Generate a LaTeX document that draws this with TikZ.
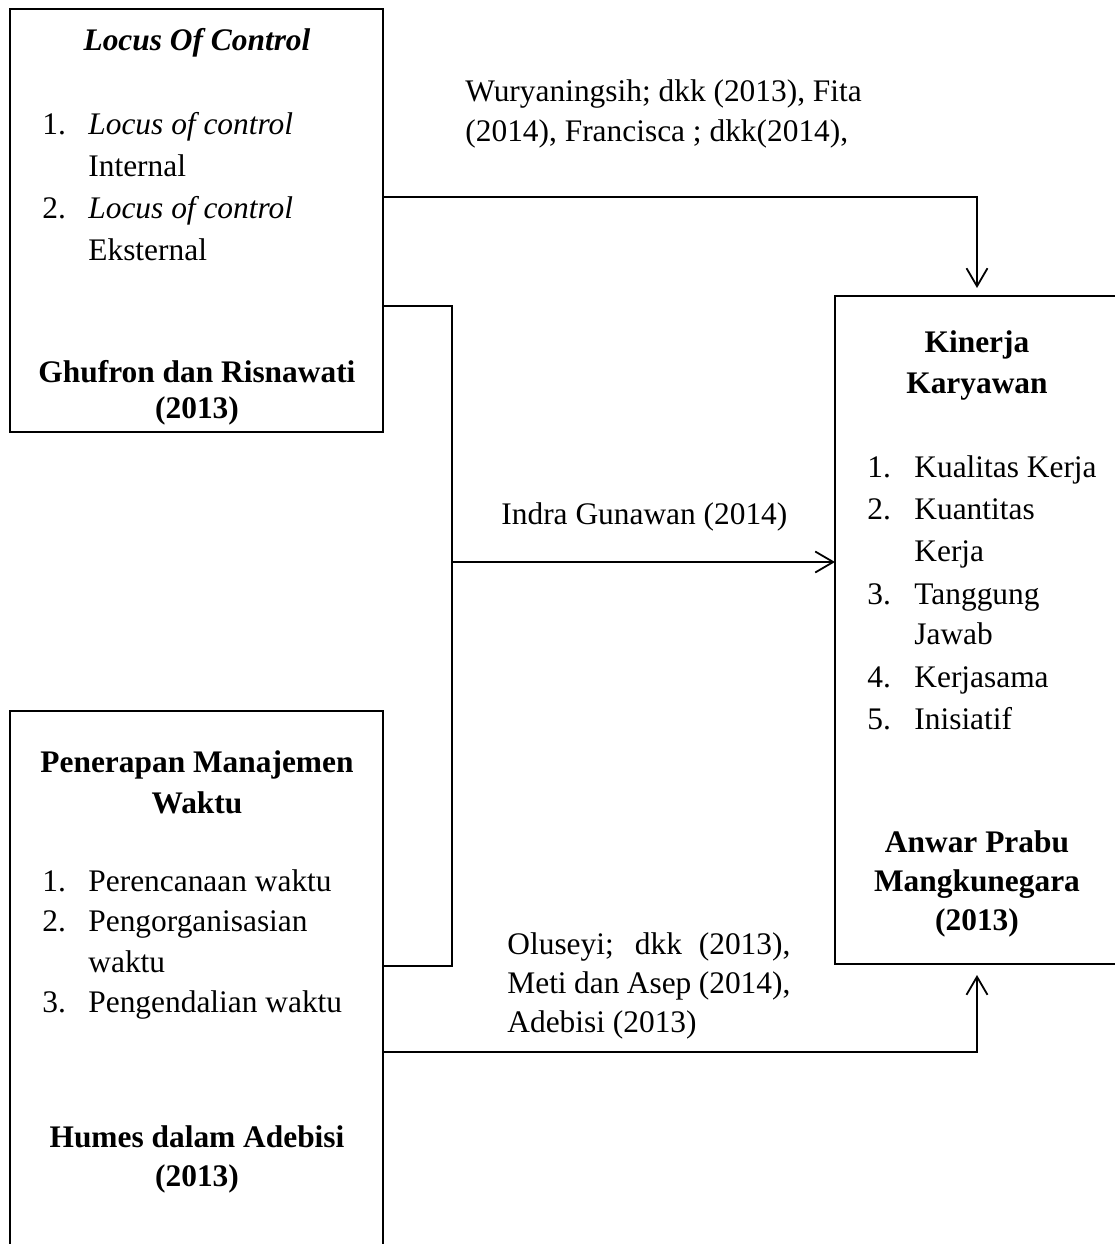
\documentclass[tikz,border=0pt]{standalone}
\usepackage{fontspec}
\setmainfont{Liberation Serif}
\usetikzlibrary{arrows.meta}
\begin{document}
\begin{tikzpicture}[x=0.5pt,y=-0.5pt,
  box/.style={draw, line width=0.9pt, inner sep=0pt, outer sep=0pt, anchor=north west},
  txt/.style={inner sep=0pt, font=\fontsize{15.7}{21}\selectfont},
  bt/.style={inner sep=0pt, font=\fontsize{15.7}{21}\selectfont\bfseries},
  bit/.style={inner sep=0pt, font=\fontsize{15.7}{21}\selectfont\bfseries\itshape},
  conn/.style={line width=0.9pt},
  arr/.style={line width=0.9pt, -{Straight Barb[length=9pt,width=10.5pt,line width=0.9pt]}}]
\clip (0,0) rectangle (1115,1244);
\fill[white] (0,0) rectangle (1115,1244);
% boxes
\node[box, minimum width=186.5pt, minimum height=211.5pt] (loc) at (10,9) {};
\node[box, minimum width=186.5pt, minimum height=280pt] (pen) at (10,711) {};
\node[box, minimum width=142pt, minimum height=334pt] (kin) at (835,296) {};
% Locus of control box
\node[bit, anchor=base] (lt) at (197,50) {Locus Of Control};
\node[txt, anchor=base west] (l1n) at (42,134) {1.};
\node[txt, anchor=base west] (l1t) at (88,134) {\textit{Locus of control}};
\node[txt, anchor=base west] (l1u) at (88,176) {Internal};
\node[txt, anchor=base west] (l2n) at (42,218) {2.};
\node[txt, anchor=base west] (l2t) at (88,218) {\textit{Locus of control}};
\node[txt, anchor=base west] (l2u) at (88,260) {Eksternal};
\node[bt, anchor=base] (lr1) at (197,382) {Ghufron dan Risnawati};
\node[bt, anchor=base] (lr2) at (197,418) {(2013)};
% Kinerja box
\node[bt, anchor=base] (k1) at (977,352) {Kinerja};
\node[bt, anchor=base] (k2) at (977,393) {Karyawan};
\node[txt, anchor=base west] (k3n) at (867,477) {1.};
\node[txt, anchor=base west] (k3t) at (914,477) {Kualitas Kerja};
\node[txt, anchor=base west] (k4n) at (867,519) {2.};
\node[txt, anchor=base west] (k4t) at (914,519) {Kuantitas};
\node[txt, anchor=base west] (k4u) at (914,561) {Kerja};
\node[txt, anchor=base west] (k5n) at (867,604) {3.};
\node[txt, anchor=base west] (k5t) at (914,604) {Tanggung};
\node[txt, anchor=base west] (k5u) at (914,644) {Jawab};
\node[txt, anchor=base west] (k6n) at (867,687) {4.};
\node[txt, anchor=base west] (k6t) at (914,687) {Kerjasama};
\node[txt, anchor=base west] (k7n) at (867,729) {5.};
\node[txt, anchor=base west] (k7t) at (914,729) {Inisiatif};
\node[bt, anchor=base] (kr1) at (977,852) {Anwar Prabu};
\node[bt, anchor=base] (kr2) at (977,891) {Mangkunegara};
\node[bt, anchor=base] (kr3) at (977,930) {(2013)};
% Penerapan box
\node[bt, anchor=base] (p1) at (197,772) {Penerapan Manajemen};
\node[bt, anchor=base] (p2) at (197,813) {Waktu};
\node[txt, anchor=base west] (p3n) at (42,891) {1.};
\node[txt, anchor=base west] (p3t) at (88,891) {Perencanaan waktu};
\node[txt, anchor=base west] (p4n) at (42,931) {2.};
\node[txt, anchor=base west] (p4t) at (88,931) {Pengorganisasian};
\node[txt, anchor=base west] (p4u) at (88,972) {waktu};
\node[txt, anchor=base west] (p5n) at (42,1012) {3.};
\node[txt, anchor=base west] (p5t) at (88,1012) {Pengendalian waktu};
\node[bt, anchor=base] (pr1) at (197,1147) {Humes dalam Adebisi};
\node[bt, anchor=base] (pr2) at (197,1186) {(2013)};
% connector labels
\node[txt, anchor=base west] (w1) at (465,101) {Wuryaningsih; dkk (2013), Fita};
\node[txt, anchor=base west] (w2) at (465,141) {(2014), Francisca ; dkk(2014),};
\node[txt, anchor=base west] (ig) at (501,524) {Indra Gunawan (2014)};
\node[txt, anchor=base west] (o1) at (507,954) {\makebox[141.5pt][s]{Oluseyi; dkk (2013),}};
\node[txt, anchor=base west] (o2) at (507,993) {\makebox[141.5pt][s]{Meti dan Asep (2014),}};
\node[txt, anchor=base west] (o3) at (507,1032) {Adebisi (2013)};
% connectors
\coordinate (y1) at (0,197);
\coordinate (j1) at (452,306);
\coordinate (j2) at (452,966);
\coordinate (j3) at (452,562);
\coordinate (y4) at (0,1052);
\draw[arr, shorten >=4pt] (loc.east |- y1) -| (kin.north);
\draw[conn] (loc.east |- j1) -- (j1) -- (j2) -- (pen.east |- j2);
\draw[arr] (j3) -- (kin.west |- j3);
\draw[arr, shorten >=5.5pt] (pen.east |- y4) -| (kin.south);
\end{tikzpicture}
\end{document}
